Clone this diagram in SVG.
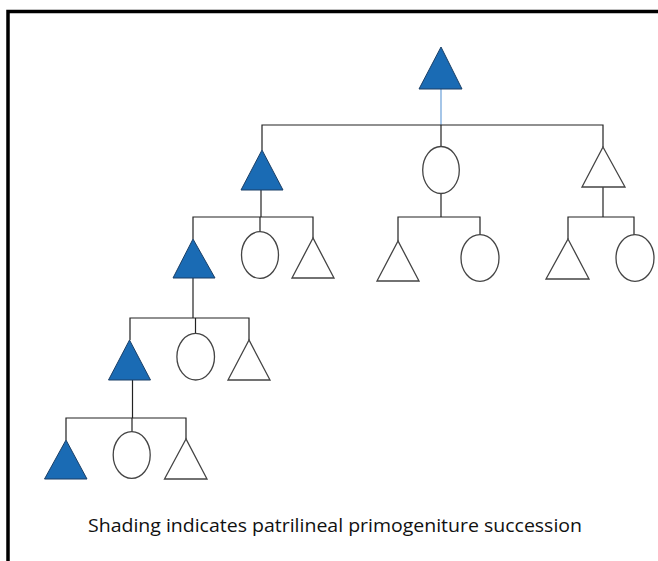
<svg xmlns="http://www.w3.org/2000/svg" width="658" height="561" viewBox="0 0 658 561">
  <style>
    .frame { fill: none; stroke: #000; stroke-width: 3.5; }
    .link { fill: none; stroke: #222; stroke-width: 1.2; }
    .link-top { fill: none; stroke: #6a9fd8; stroke-width: 1.2; }
    .heir { fill: #1a6bb4; stroke: #1b3f66; stroke-width: 1; }
    .male { fill: #fff; stroke: #444; stroke-width: 1.3; }
    .female { fill: #fff; stroke: #444; stroke-width: 1.3; }
    .caption { font-family: "Open Sans", "Liberation Sans", sans-serif; font-size: 18px; fill: #111; }
  </style>

  <rect width="658" height="561" fill="#fff"/>
  <!-- outer frame, running off the right and bottom edges -->
  <rect class="frame" x="8" y="11.5" width="700" height="600"/>

  <g id="connectors">
    <line class="link-top" x1="441" y1="89" x2="441" y2="125"/>
    <!-- generation 1 -> 2 -->
    <polyline class="link" points="262,150 262,125 603,125 603,147"/>
    <line class="link" x1="441" y1="125" x2="441" y2="146"/>
    <!-- left branch, generation 2 -> 3 -->
    <line class="link" x1="261" y1="190" x2="261" y2="217"/>
    <polyline class="link" points="193,239 193,217 313,217 313,238"/>
    <line class="link" x1="260" y1="217" x2="260" y2="232"/>
    <!-- middle branch -->
    <line class="link" x1="441" y1="193" x2="441" y2="217"/>
    <polyline class="link" points="398,241 398,217 480,217 480,235"/>
    <!-- right branch -->
    <line class="link" x1="603" y1="187" x2="603" y2="217"/>
    <polyline class="link" points="568,239 568,217 634,217 634,235"/>
    <!-- generation 3 -> 4 -->
    <line class="link" x1="193" y1="278" x2="193" y2="318"/>
    <polyline class="link" points="130,340 130,318 249,318 249,340"/>
    <line class="link" x1="195.5" y1="318" x2="195.5" y2="333"/>
    <!-- generation 4 -> 5 -->
    <line class="link" x1="132.5" y1="380" x2="132.5" y2="418"/>
    <polyline class="link" points="66,440 66,418 186,418 186,439"/>
    <line class="link" x1="132" y1="418" x2="132" y2="432"/>
  </g>

  <g id="g1-heir"><polygon class="heir" points="441,47 419,89 462,89"/></g>

  <g id="g2-heir"><polygon class="heir" points="262,150 241,190 283,190"/></g>
  <g id="g2-daughter"><ellipse class="female" cx="441" cy="170" rx="18.3" ry="23.5"/></g>
  <g id="g2-son"><polygon class="male" points="603,147 582,187 625,187"/></g>

  <g id="g3-heir"><polygon class="heir" points="193,239 173,278 215,278"/></g>
  <g id="g3-daughter"><ellipse class="female" cx="260" cy="255" rx="18.5" ry="23.3"/></g>
  <g id="g3-son"><polygon class="male" points="313,238 292,278 334,278"/></g>
  <g id="g3-mid-son"><polygon class="male" points="398,241 377,281 419,281"/></g>
  <g id="g3-mid-daughter"><ellipse class="female" cx="480" cy="258" rx="19" ry="23.3"/></g>
  <g id="g3-right-son"><polygon class="male" points="568,239 546,279 589,279"/></g>
  <g id="g3-right-daughter"><ellipse class="female" cx="635" cy="258" rx="19" ry="23.3"/></g>

  <g id="g4-heir"><polygon class="heir" points="129.5,340 108.5,380 150.5,380"/></g>
  <g id="g4-daughter"><ellipse class="female" cx="195.7" cy="356.7" rx="18.8" ry="23.3"/></g>
  <g id="g4-son"><polygon class="male" points="249,340 228,380 270,380"/></g>

  <g id="g5-heir"><polygon class="heir" points="66,440 44.5,479 87,479"/></g>
  <g id="g5-daughter"><ellipse class="female" cx="131.7" cy="455" rx="18.5" ry="23.3"/></g>
  <g id="g5-son"><polygon class="male" points="186,439 164.5,479 207,479"/></g>

  <text class="caption" x="88" y="532" textLength="494" lengthAdjust="spacingAndGlyphs">Shading indicates patrilineal primogeniture succession</text>
</svg>
